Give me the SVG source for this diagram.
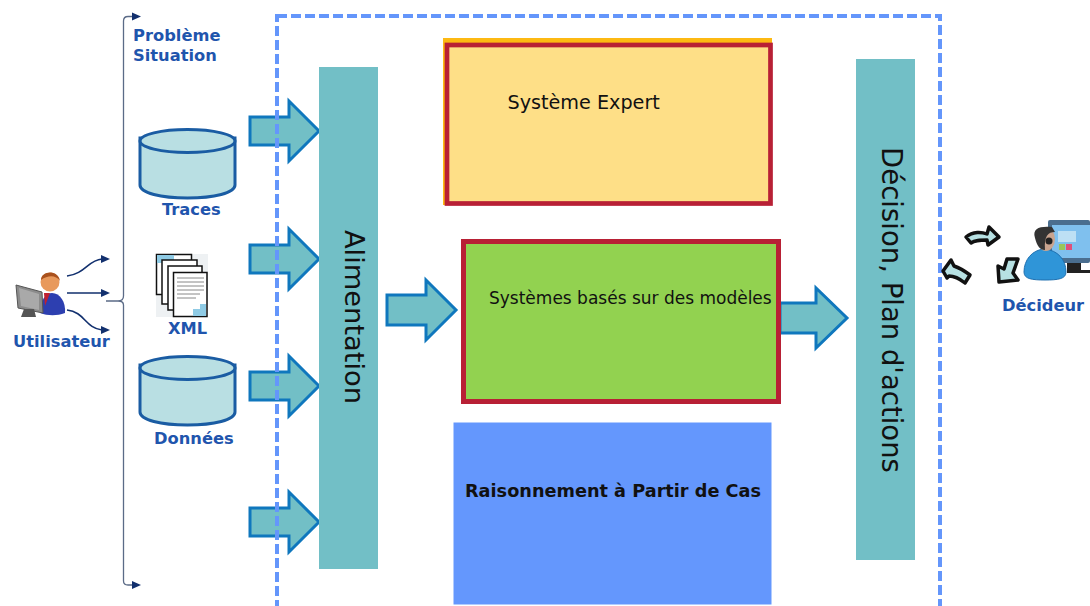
<svg xmlns="http://www.w3.org/2000/svg" width="1090" height="606" viewBox="0 0 1090 606">
<style>
text{font-family:"DejaVu Sans",sans-serif}
.lb{font-weight:bold;font-size:16.300px;fill:#1f55ad}
.bar{fill:#72bfc6}
.arr{fill:#72bfc6;stroke:#0f77bd;stroke-width:3;stroke-linejoin:miter}
.cyl{fill:#b9dfe3;stroke:#1a5ca3;stroke-width:3}
.dk{fill:none;stroke:#12306e;stroke-width:1.6}
.br{fill:none;stroke:#5b6b87;stroke-width:1.3}
.ah{fill:#12306e}
.sw{fill:#b7e1e3;stroke:#111;stroke-width:3.500;stroke-linejoin:round}
.pg{fill:#fff;stroke:#111;stroke-width:1.5}
.ln{stroke:#888;stroke-width:1}
</style>
<defs>
<path id="ar" class="arr" d="M0-14H39V-30L69 0 39 30V14H0Z"/>
<g id="cy"><path class="cyl" d="M0 8V55C0 63 21 68 47.500 68S95 63 95 55V8Z"/><ellipse class="cyl" cx="47.500" cy="11" rx="47.500" ry="11.500"/></g>
</defs>
<rect width="1090" height="606" fill="#fff"/>
<g id="connectors">
<path class="br" d="M134 16.500H128Q123.500 16.500 123.500 21V296Q123.500 301 118 301H106M118 301Q123.500 301 123.500 305V581Q123.500 585 128 585H134"/>
<path class="ah" d="M132 12.500l9 4-9 4zM132 581l9 4-9 4z"/>
<path class="dk" d="M67 276C85 274 88 260 102 259M67 293H102M67 310C85 312 85 328 102 330"/>
<path class="ah" d="M101 255l9 4-9 4zM101 289l9 4-9 4zM101 326l9 4-9 4z"/>
</g>
<g id="arrow-1"><use href="#ar" x="250" y="131"/></g>
<g id="arrow-2"><use href="#ar" x="250" y="259"/></g>
<g id="arrow-3"><use href="#ar" x="250" y="386"/></g>
<g id="arrow-4"><use href="#ar" x="250" y="522"/></g>
<g id="arrow-5"><path class="arr" d="M387 295H426V280L456 310 426 340V325H387Z"/></g>
<g id="arrow-6"><path class="arr" d="M780 303H816V288L847 318 816 348V333H780Z"/></g>
<rect id="scope" x="277" y="16" width="663" height="600" fill="none" stroke="#6496fb" stroke-width="4" stroke-dasharray="10 4"/>
<g id="alimentation"><rect class="bar" x="319" y="67" width="59" height="502"/>
<text transform="translate(345 317) rotate(90)" text-anchor="middle" font-size="27.300" fill="#111">Alimentation</text></g>
<g id="decision"><rect class="bar" x="856" y="59" width="59" height="501"/>
<text transform="translate(882 310) rotate(90)" text-anchor="middle" font-size="27.500" fill="#111">Décision, Plan d'actions</text></g>
<g id="expert"><rect x="443" y="38" width="329" height="6" fill="#fdb913"/><rect x="443" y="38" width="4" height="167" fill="#fdb913"/>
<rect x="447" y="45" width="323.500" height="158.500" fill="#fedf87" stroke="#b82035" stroke-width="4.700"/>
<text x="507.500" y="109" font-size="19.200" fill="#111">Système Expert</text></g>
<g id="modeles"><rect x="463.500" y="241.500" width="315" height="160" fill="#92d250" stroke="#b82035" stroke-width="5"/>
<text x="489" y="304" font-size="17" fill="#111">Systèmes basés sur des modèles</text></g>
<g id="rpc"><rect x="454" y="423" width="317" height="181" fill="#6497fd" stroke="#6497fd"/>
<text x="465" y="497" font-size="17.700" font-weight="bold" fill="#111">Raisonnement à Partir de Cas</text></g>
<g id="probleme"><text class="lb" x="133" y="41">Problème</text><text class="lb" x="133" y="61">Situation</text></g>
<g id="traces"><use href="#cy" x="140" y="130"/><text class="lb" x="162" y="215">Traces</text></g>
<g id="donnees"><use href="#cy" x="140" y="357"/><text class="lb" x="154" y="444">Données</text></g>
<g id="xml">
<rect x="156" y="254" width="52" height="63" fill="#eef1f3"/>
<rect class="pg" x="156.500" y="254.500" width="35" height="40"/><rect x="157" y="255" width="17" height="8" fill="#8fcbe5"/>
<rect class="pg" x="162" y="260" width="35" height="44"/>
<rect class="pg" x="168" y="266" width="34" height="44"/>
<rect class="pg" x="173.500" y="272.500" width="33.500" height="44"/>
<path d="M206 304V316H193V309H200V304Z" fill="#8fcbe5"/>
<path class="ln" d="M177 278H204M177 282H204M177 286H204M177 290H204M177 294H200M177 298H196"/>
<text class="lb" x="168" y="334">XML</text></g>
<g id="utilisateur">
<path d="M40 313C40 300 46 293 52 293C60 293 66 302 65 313C57 316 48 316 40 313Z" fill="#2d3fb0"/>
<path d="M44 293H50L45 306Z" fill="#c02030"/>
<circle cx="50" cy="282" r="9.500" fill="#e8995c"/>
<path d="M41 280C41 271 58 269 60 281C56 275 48 275 41 280Z" fill="#a9511d"/>
<path d="M16 285L42 292 43 313 18 308Z" fill="#8b8b8b" stroke="#555"/><path d="M19 288L39 294V310L21 306Z" fill="#a9a9a9"/>
<path d="M24 309H34L36 317H21Z" fill="#555"/>
<text class="lb" x="13" y="347">Utilisateur</text></g>
<g id="decideur">
<rect x="1048" y="220" width="42" height="43" rx="2" fill="#4a6e8f"/><rect x="1052" y="225" width="38" height="33" fill="#7fc0ee"/>
<rect x="1058" y="231" width="18" height="11" fill="#bde0f4"/><rect x="1066" y="244" width="6" height="6" fill="#e0507a"/><rect x="1059" y="244" width="6" height="6" fill="#9ac65a"/>
<path d="M1067 263H1081V270H1090V273H1067Z" fill="#222"/>
<path d="M1024 272C1024 260 1032 250 1044 249C1058 250 1066 260 1066 272C1066 279 1058 280 1045 280C1032 280 1024 279 1024 272Z" fill="#2f95d8" stroke="#1f70b0"/>
<ellipse cx="1046" cy="239" rx="9" ry="12" fill="#c9a48f"/>
<path d="M1035 238C1032 228 1040 226 1052 227L1055 232C1048 232 1044 236 1045 250C1040 250 1037 246 1035 238Z" fill="#333"/>
<circle cx="1049" cy="241" r="3.500" fill="#222"/>
<path d="M966 237C973 231 982 232 987 234L989 227 999 237 988 245 987 240C980 240 975 240 971 243Z" class="sw"/>
<path d="M943 271L951 260 954 266C960 268 966 272 970 275L965 283C960 279 954 276 949 276L947 278Z" class="sw"/>
<path d="M999 282L998 266 1004 269 1007 259H1018L1013 273 1018 280Z" class="sw"/>
<text x="1002" y="311" class="lb">Décideur</text></g>
</svg>
